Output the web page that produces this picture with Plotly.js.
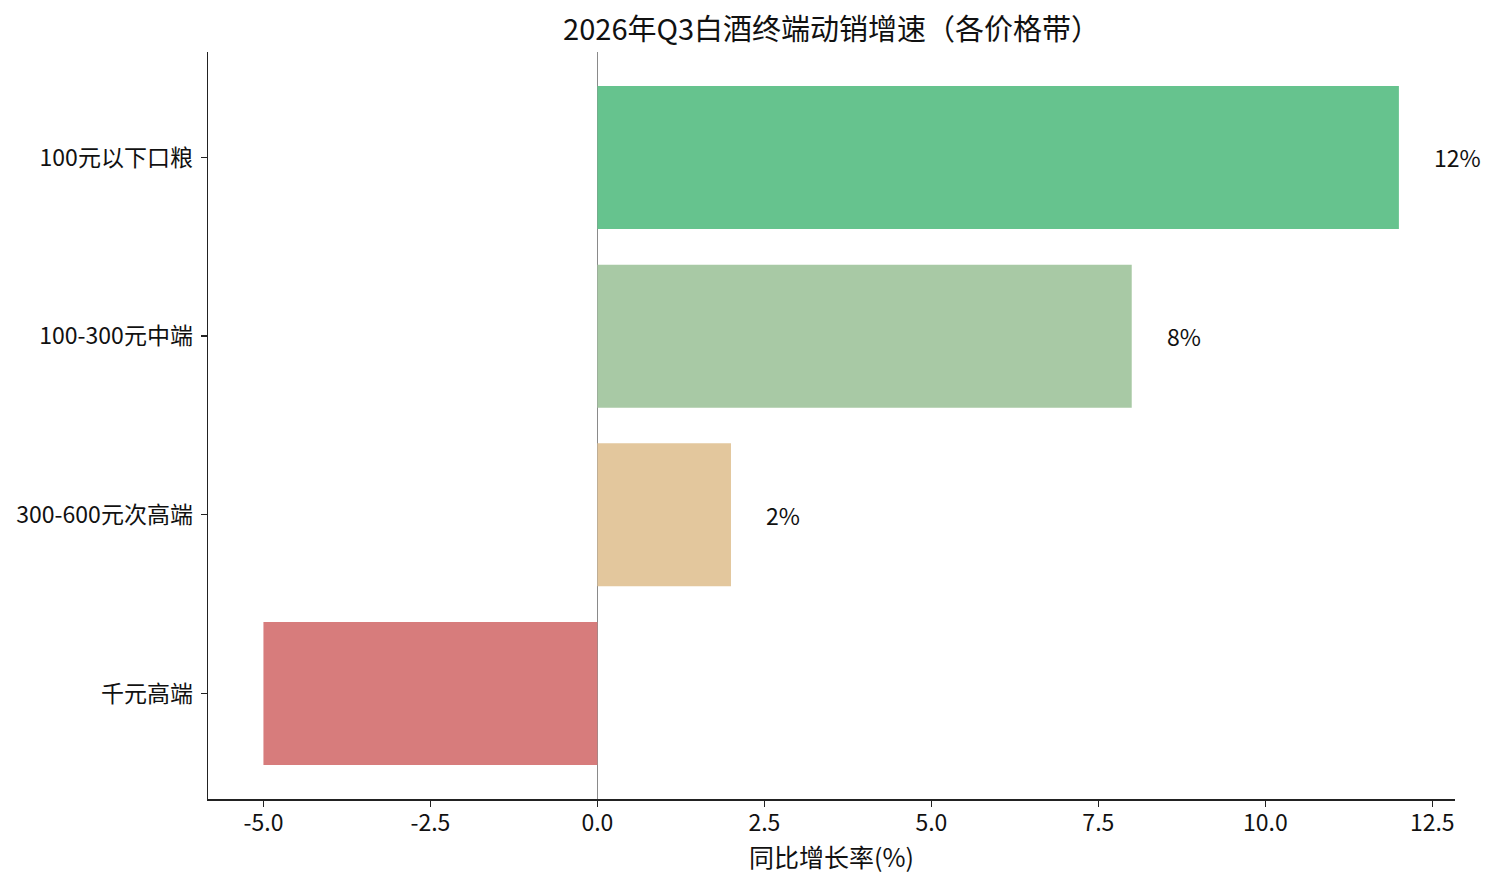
<!DOCTYPE html>
<html>
<head>
<meta charset="utf-8">
<script src="https://cdn.plot.ly/plotly-3.0.1.min.js"></script>
<style>
  html, body { margin: 0; padding: 0; background: #fff; }
  #chart { width: 1493px; height: 885px; }
</style>
</head>
<body>
<div id="chart"></div>
<script>
// price bands, top to bottom
const categories = ['100元以下口粮', '100-300元中端', '300-600元次高端', '千元高端'];
const growth = [12, 8, 2, -5];  // YoY %
const barColors = ['#66c38e', '#a8c9a5', '#e3c79d', '#d77c7c'];
const tickVals = [-5, -2.5, 0, 2.5, 5, 7.5, 10, 12.5];
const tickText = ['-5.0', '-2.5', '0.0', '2.5', '5.0', '7.5', '10.0', '12.5'];

const font = '"Noto Sans CJK SC", "Noto Sans", sans-serif';

function main() {
  const trace = {
    type: 'bar',
    orientation: 'h',
    y: categories,
    x: growth,
    width: 0.8,
    marker: { color: barColors },
    hoverinfo: 'x+y'
  };

  // value labels only on the growing bands
  const labels = [];
  growth.forEach((v, i) => {
    if (v > 0) {
      labels.push({
        x: v + 0.5, y: categories[i], xref: 'x', yref: 'y',
        text: v + '%', showarrow: false, xanchor: 'left', yanchor: 'middle',
        font: { family: font, size: 23, color: '#111' }
      });
    }
  });

  const layout = {
    width: 1493, height: 885,
    margin: { l: 208, r: 38, t: 52, b: 86 },
    paper_bgcolor: '#fff', plot_bgcolor: '#fff',
    font: { family: font, color: '#111' },
    showlegend: false,
    title: {
      text: '2026年Q3白酒终端动销增速（各价格带）',
      font: { family: font, size: 29, color: '#111' },
      x: 0.557, xanchor: 'center', y: 0.966, yanchor: 'middle'
    },
    xaxis: {
      range: [-5.83, 12.84],
      tickvals: tickVals, ticktext: tickText,
      ticks: 'outside', ticklen: 6, tickwidth: 1.3, tickcolor: '#222',
      ticklabelstandoff: -3,
      showline: true, linecolor: '#222', linewidth: 1.5,
      showgrid: false,
      zeroline: true, zerolinecolor: '#8a8a8a', zerolinewidth: 1.3,
      tickfont: { family: font, size: 23, color: '#111' },
      title: { text: '同比增长率(%)', font: { family: font, size: 25, color: '#111' }, standoff: 6 }
    },
    yaxis: {
      range: [3.59, -0.59],
      ticks: 'outside', ticklen: 6, tickwidth: 1.3, tickcolor: '#222',
      ticklabelstandoff: 3,
      showline: true, linecolor: '#222', linewidth: 1.5,
      showgrid: false, zeroline: false,
      tickfont: { family: font, size: 23, color: '#111' }
    },
    annotations: labels,
    bargap: 0.2
  };

  Plotly.newPlot('chart', [trace], layout, { displayModeBar: false, staticPlot: true });
}

main();
</script>
</body>
</html>
